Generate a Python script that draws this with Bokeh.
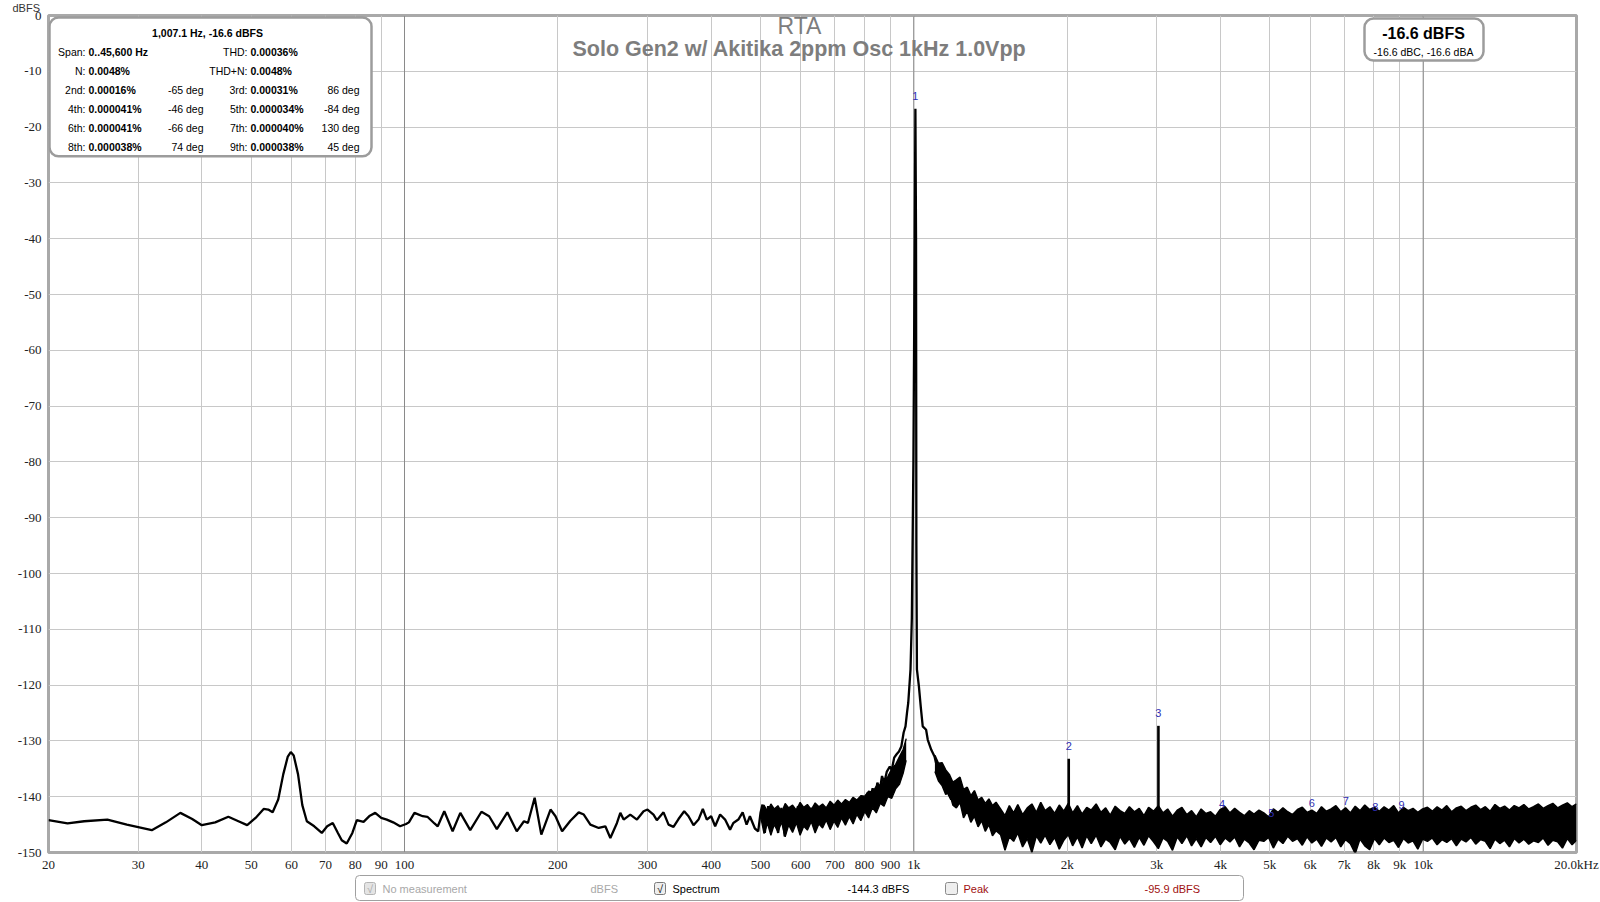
from bokeh.plotting import figure
from bokeh.layouts import column
from bokeh.models import Range1d, FixedTicker, Label, BoxAnnotation, Span, Title
from bokeh.embed import file_html
from bokeh.resources import INLINE
from bokeh.core.properties import value

# ---------------- data ----------------
# continuous spectrum trace, 20 Hz .. 1.5 kHz (Hz, dBFS)
spec_freq = [
    20, 21.8, 23.5, 26.1, 28.5, 31.9, 34.0, 36.3, 38.3, 40.0,
    42.5, 45.1, 47.2, 49.1, 51.0, 52.9, 54.0, 55.1, 56.5, 57.8,
    59.0, 59.8, 60.6, 61.8, 63.0, 64.3, 66.5, 68.8, 70.5, 72.3,
    74.0, 75.3, 77.0, 79.0, 80.6, 83.1, 85.5, 87.6, 90.0, 92.3,
    95.0, 98.0, 100.7, 102.0, 104.6, 108.6, 110.9, 114.5, 116.2, 119.7,
    124.3, 128.7, 134.6, 141.6, 146.6, 151.8, 159.2, 166.1, 171.6, 174.7,
    180.1, 185.6, 193.5, 197.9, 203.9, 211.7, 219.8, 224.9, 231.7, 240.6,
    247.9, 253.6, 261.3, 265.3, 269.3, 277.5, 286.0, 294.7, 300.0, 308.2,
    312.9, 322.5, 329.9, 337.4, 345.1, 354.1, 361.1, 369.3, 377.8, 385.2,
    392.2, 400.0, 407.3, 416.5, 426.0, 435.7, 442.2, 452.3, 461.2, 469.5,
    476.6, 487.4, 494.8, 500.0, 504.5, 509.8, 517.5, 525.4, 533.3, 541.4,
    549.5, 557.8, 566.2, 579.1, 592.3, 600, 610, 620, 630, 640,
    650, 662, 672, 684, 694, 705, 716, 728, 740, 752,
    760, 770, 782, 793, 800, 812, 820, 830, 840, 848,
    858, 866, 875, 885, 897, 905, 915, 925, 935, 945,
    955, 963, 970, 975, 980, 985, 991, 998, 1004, 1007.1,
    1010, 1011.5, 1014, 1023, 1032, 1041, 1057, 1065, 1082, 1098,
    1106, 1115, 1131, 1143, 1157, 1166, 1184, 1202, 1220, 1238,
    1252, 1276, 1296, 1315, 1335, 1356, 1376, 1397, 1418, 1439,
    1461, 1495,
]
spec_db = [
    -144.2, -144.8, -144.4, -144.1, -145.0, -146.0, -144.6, -142.9, -144.0, -145.1,
    -144.6, -143.6, -144.4, -145.1, -143.8, -142.2, -142.3, -142.8, -140.5, -136.0,
    -132.8, -132.0, -132.6, -136.0, -141.5, -144.4, -145.3, -146.5, -145.3, -144.7,
    -146.5, -147.8, -148.4, -146.5, -144.2, -144.5, -143.4, -142.9, -143.8, -144.1,
    -144.6, -145.3, -144.9, -144.6, -142.9, -143.5, -143.6, -144.8, -145.3, -142.6,
    -146.2, -142.9, -146.0, -142.7, -143.5, -145.8, -142.8, -146.2, -144.4, -144.7,
    -140.2, -146.8, -142.3, -143.5, -146.2, -144.3, -142.8, -143.2, -145.0, -145.6,
    -145.3, -147.4, -144.7, -142.9, -144.1, -143.2, -144.1, -142.6, -142.3, -143.2,
    -144.2, -142.8, -145.0, -145.4, -144.0, -142.6, -143.5, -145.1, -144.1, -142.2,
    -144.1, -143.5, -145.3, -143.2, -144.1, -145.9, -144.7, -144.1, -142.8, -145.0,
    -143.5, -145.7, -146.2, -142.9, -141.4, -146.5, -141.7, -145.6, -142.3, -146.5,
    -142.0, -147.1, -142.3, -145.3, -141.7, -143.5, -142.5, -144.5, -142.0, -145.8,
    -143.0, -142.0, -144.2, -142.6, -142.3, -141.6, -143.0, -141.4, -142.8, -141.2,
    -140.3, -142.4, -140.8, -141.6, -140.6, -139.3, -140.6, -138.5, -139.8, -137.5,
    -138.6, -136.3, -137.5, -135.5, -134.6, -135.2, -133.0, -132.4, -131.9, -131.0,
    -128.5, -127.4, -124.8, -123.2, -120.2, -117.2, -108.0, -80.0, -40.0, -16.7,
    -40.0, -95.0, -117.2, -120.2, -124.0, -127.4, -128.0, -129.8, -131.6, -132.8,
    -134.0, -136.3, -134.6, -137.5, -136.3, -139.3, -140.5, -139.3, -140.8, -137.8,
    -142.9, -139.9, -141.4, -139.3, -142.3, -141.1, -144.1, -142.3, -144.7, -142.0,
    -145.9, -143.5,
]

# thick noisy part of the trace below the fundamental (upper / lower envelope)
skirt_freq = [500, 508, 516, 524, 532, 541, 550, 559, 568, 578,
              588, 598, 608, 618, 629, 640, 651, 662, 673, 685,
              697, 709, 721, 734, 747, 760, 773, 787, 801, 815,
              829, 844, 859, 874, 889, 905, 921, 937, 953, 966]
skirt_top = [-142.9, -141.5, -142.6, -141.3, -142.2, -141.6, -142.8, -141.2, -142.0, -141.5,
             -142.4, -141.0, -141.9, -141.4, -142.3, -141.1, -141.8, -141.3, -142.0, -140.8,
             -141.5, -140.6, -141.3, -140.5, -141.0, -140.1, -140.6, -139.8, -139.9, -139.0,
             -139.2, -138.1, -137.9, -137.0, -136.4, -135.0, -134.2, -132.8, -131.5, -129.6]
skirt_bottom = [-143.5, -146.6, -144.8, -146.9, -145.0, -146.3, -144.6, -147.2, -145.1, -146.4,
                -144.7, -146.9, -145.3, -146.0, -144.5, -146.5, -144.9, -145.6, -144.2, -145.9,
                -144.4, -145.5, -143.8, -145.1, -143.6, -144.9, -143.2, -144.3, -142.7, -143.8,
                -142.0, -142.9, -141.2, -141.7, -140.0, -140.3, -138.6, -137.8, -135.8, -133.5]

# dense noise floor above the fundamental: upper and lower envelope of the trace
noise_freq = [
    1100, 1118, 1136, 1155, 1174, 1193, 1212, 1232, 1252, 1273,
    1294, 1315, 1337, 1359, 1381, 1404, 1427, 1450,
    1480, 1510, 1540, 1570, 1600, 1635, 1670, 1705, 1740, 1775,
    1810, 1850, 1890, 1930, 1970, 2010, 2050, 2095, 2140, 2185,
    2230, 2280, 2330, 2380, 2430, 2485, 2540, 2595, 2650, 2710,
    2770, 2830, 2890, 2955, 3020, 3085, 3150, 3220, 3290, 3360,
    3435, 3510, 3585, 3665, 3745, 3825, 3910, 3995, 4085, 4175,
    4265, 4360, 4455, 4555, 4655, 4760, 4865, 4970, 5080, 5190,
    5305, 5420, 5540, 5665, 5790, 5915, 6045, 6180, 6315, 6455,
    6595, 6740, 6890, 7040, 7195, 7355, 7515, 7680, 7850, 8025,
    8200, 8380, 8565, 8755, 8945, 9145, 9345, 9550, 9760, 9975,
    10195, 10420, 10650, 10885, 11125, 11370, 11620, 11875, 12135, 12405,
    12680, 12960, 13245, 13535, 13835, 14140, 14450, 14770, 15095, 15425,
    15765, 16115, 16470, 16835, 17205, 17585, 17970, 18365, 18770, 19185,
    19605, 20000,
]
noise_top = [
    -132.6, -134.0, -133.9, -135.2, -136.0, -137.4, -137.0, -136.5, -138.7, -138.3,
    -139.8, -138.9, -140.6, -140.1, -141.2, -140.4, -141.6, -141.0,
    -142.2, -143.4, -141.6, -142.9, -141.4, -143.2, -142.0, -141.3, -142.8, -141.0,
    -142.5, -141.8, -143.0, -141.5, -142.6, -141.2, -142.9, -141.6, -143.1, -141.9,
    -142.4, -141.3, -142.8, -142.0, -143.3, -141.7, -142.5, -143.0, -141.8, -142.7,
    -142.1, -143.4, -141.9, -142.6, -141.6, -142.9, -142.2, -143.5, -142.4, -141.9,
    -143.2, -142.5, -143.6, -142.2, -143.0, -142.7, -143.5, -142.3, -141.8, -142.9,
    -142.1, -142.8, -143.4, -142.5, -143.1, -142.4, -142.9, -143.6, -142.2, -142.8,
    -142.0, -142.7, -143.2, -142.3, -141.9, -142.8, -142.4, -143.0, -141.8, -142.6,
    -142.2, -141.6, -142.7, -142.0, -142.9, -141.7, -142.5, -141.5, -142.3, -141.9,
    -142.6, -141.8, -142.4, -141.6, -142.9, -141.9, -142.5, -142.1, -142.8, -142.2,
    -141.9, -142.6, -141.8, -142.4, -141.6, -142.7, -142.0, -141.7, -142.5, -141.9,
    -141.5, -142.3, -141.8, -142.6, -141.4, -142.1, -141.7, -142.4, -141.6, -142.0,
    -141.4, -142.2, -141.8, -141.3, -142.1, -141.6, -141.2, -142.0, -141.5, -141.1,
    -141.8, -141.3,
]
noise_bottom = [
    -135.5, -137.2, -138.0, -139.6, -139.2, -141.5, -142.0, -141.0, -143.8, -142.6,
    -144.6, -143.5, -145.4, -144.3, -146.2, -145.0, -147.0, -146.1,
    -146.8, -149.6, -147.2, -148.0, -146.5, -149.0, -147.5, -150.0, -147.0, -148.3,
    -146.9, -148.6, -147.3, -149.4, -147.8, -146.8, -148.8, -147.2, -149.2, -147.0,
    -148.4, -146.9, -149.0, -147.6, -148.2, -149.5, -147.1, -148.5, -147.5, -149.1,
    -147.3, -148.7, -147.0, -148.1, -149.3, -147.4, -148.0, -149.6, -147.2, -148.4,
    -147.0, -148.8, -147.5, -149.0, -147.3, -148.2, -147.1, -148.6, -147.4, -148.1,
    -147.2, -149.0, -147.6, -148.3, -149.5, -147.8, -148.0, -147.3, -149.2, -147.6,
    -148.4, -147.1, -148.0, -147.5, -148.7, -147.2, -148.3, -147.6, -148.9, -147.4,
    -148.1, -147.3, -149.0, -147.7, -148.4, -150.2, -147.6, -148.8, -149.5, -147.5,
    -148.6, -147.4, -148.2, -147.8, -149.1, -147.5, -148.3, -147.9, -149.4, -147.6,
    -148.0, -147.4, -148.6, -147.7, -148.2, -147.5, -148.8, -147.6, -148.1, -147.3,
    -148.5, -147.7, -148.0, -149.3, -147.6, -148.4, -147.8, -149.0, -147.5, -148.3,
    -147.6, -148.5, -147.9, -148.2, -147.4, -148.7, -147.8, -148.1, -149.2, -147.5,
    -148.6, -147.8,
]

# harmonic markers
harm_num = ["1", "2", "3", "4", "5", "6", "7", "8", "9"]
harm_freq = [1007.1, 2014.2, 3021.3, 4028.4, 5035.5, 6042.6, 7049.7, 8056.8, 9063.9]
harm_db = [-16.7, -133.2, -127.3, -143.7, -145.2, -143.5, -143.1, -144.2, -143.8]
noise_floor_db = -146.0

# axes
x_ticks = [20, 30, 40, 50, 60, 70, 80, 90, 100, 200, 300, 400, 500, 600, 700, 800, 900,
           1000, 2000, 3000, 4000, 5000, 6000, 7000, 8000, 9000, 10000, 20000]
x_tick_labels = ["20", "30", "40", "50", "60", "70", "80", "90", "100", "200", "300", "400",
                 "500", "600", "700", "800", "900", "1k", "2k", "3k", "4k", "5k", "6k", "7k",
                 "8k", "9k", "10k", "20.0kHz"]
y_ticks = [-150, -140, -130, -120, -110, -100, -90, -80, -70, -60, -50, -40, -30, -20, -10, 0]
y_unit = "dBFS"
decade_lines = [100, 1000, 10000]

# text panels
title_text = "RTA"
subtitle_text = "Solo Gen2 w/ Akitika 2ppm Osc 1kHz 1.0Vpp"
info_title = "1,007.1 Hz, -16.6 dBFS"
info_rows = [
    ("Span:", "0..45,600 Hz", "", "THD:", "0.00036%", ""),
    ("N:", "0.0048%", "", "THD+N:", "0.0048%", ""),
    ("2nd:", "0.00016%", "-65 deg", "3rd:", "0.00031%", "86 deg"),
    ("4th:", "0.000041%", "-46 deg", "5th:", "0.000034%", "-84 deg"),
    ("6th:", "0.000041%", "-66 deg", "7th:", "0.000040%", "130 deg"),
    ("8th:", "0.000038%", "74 deg", "9th:", "0.000038%", "45 deg"),
]
level_main = "-16.6 dBFS"
level_sub = "-16.6 dBC, -16.6 dBA"
legend_spectrum_value = "-144.3 dBFS"
legend_peak_value = "-95.9 dBFS"

# ---------------- main figure ----------------
FL, FR, FT, FB = 48, 1576, 15, 853   # frame edges in page pixels


def X(px):
    return 20 * 10 ** (3.0 * (px - FL) / (FR - FL))


def Y(py):
    return -150.0 * (py - FT) / (FB - FT)


SANS = "Liberation Sans"
NARROW = "Liberation Sans Narrow"

unit_title = Title(text=y_unit, align="left", offset=-36, standoff=0,
                   text_font=SANS, text_font_size="11px", text_font_style="normal",
                   text_color="#333333", vertical_align="top")

p = figure(width=1600, height=874, x_axis_type="log",
           x_range=Range1d(20, 20000), y_range=Range1d(-150, 0),
           output_backend="svg", toolbar_location=None, title=unit_title,
           min_border_left=48, min_border_right=24, min_border_top=15, min_border_bottom=21)
p.background_fill_color = "white"
p.border_fill_color = "white"
p.outline_line_color = "#a9a9a9"
p.outline_line_width = 3

p.xaxis.ticker = FixedTicker(ticks=x_ticks)
p.yaxis.ticker = FixedTicker(ticks=y_ticks)
p.xaxis.major_label_overrides = {t: l for t, l in zip(x_ticks, x_tick_labels)}
p.yaxis.major_label_overrides = {t: str(t) for t in y_ticks}
for ax in (p.xaxis, p.yaxis):
    ax.axis_line_color = None
    ax.major_tick_line_color = None
    ax.minor_tick_line_color = None
    ax.major_tick_out = 0
    ax.major_tick_in = 0
    ax.minor_tick_out = 0
    ax.minor_tick_in = 0
    ax.major_label_text_font = NARROW
    ax.major_label_text_font_size = "13px"
    ax.major_label_text_color = "#222222"
p.xaxis.major_label_standoff = 4
p.yaxis.major_label_standoff = 7
p.xgrid.ticker = FixedTicker(ticks=x_ticks)
p.ygrid.ticker = FixedTicker(ticks=y_ticks)
p.xgrid.grid_line_color = "#c8c8c8"
p.ygrid.grid_line_color = "#c8c8c8"
for f in decade_lines:
    p.add_layout(Span(location=f, dimension="height", line_color="#8a8a8a",
                      line_width=1, level="underlay"))

# spectrum
p.varea(x=skirt_freq, y1=skirt_bottom, y2=skirt_top, fill_color="black")
p.line(skirt_freq, skirt_top, line_color="black", line_width=1.3)
p.line(skirt_freq, skirt_bottom, line_color="black", line_width=1.3)
p.varea(x=noise_freq, y1=noise_bottom, y2=noise_top, fill_color="black")
p.line(noise_freq, noise_top, line_color="black", line_width=1.5)
p.line(noise_freq, noise_bottom, line_color="black", line_width=1.5)
p.line(spec_freq, spec_db, line_color="black", line_width=2.3)
p.segment(x0=harm_freq[1:], y0=[noise_floor_db] * 8, x1=harm_freq[1:], y1=harm_db[1:],
          line_color="black", line_width=2.6)
p.text(x=harm_freq, y=harm_db, text=harm_num, y_offset=-13, text_align="center",
       text_baseline="middle", text_color="#2f2fb4", text_font_size="11px",
       text_font=value(SANS))


def lab(fig, xx, yy, text, size="10.5px", align="left", bold=False, color="black",
        font=SANS, baseline="middle"):
    fig.add_layout(Label(x=xx, y=yy, text=text, text_align=align,
                         text_baseline=baseline, text_font_size=size,
                         text_font_style="bold" if bold else "normal",
                         text_color=color, text_font=font))


def box(fig, l, r, t, b, fill="white", line="#9a9a9a", lw=1.0, radius=0):
    fig.add_layout(BoxAnnotation(left=l, right=r, top=t, bottom=b,
                                 fill_color=fill, fill_alpha=1.0, line_color=line,
                                 line_alpha=1.0, line_width=lw, border_radius=radius))


# titles inside the plot
lab(p, X(799), Y(25.5), title_text, size="23px", align="center", color="#7d7d7d")
lab(p, X(799), Y(49), subtitle_text, size="21.5px", align="center", bold=True, color="#7d7d7d")

# info box
box(p, X(49), X(371), Y(17), Y(156), line="#9c9c9c", lw=2.5, radius=9)
lab(p, X(207), Y(32.5), info_title, bold=True, align="center")
row_y = [51.7, 70.7, 90, 109, 127.7, 146.7]
for (a, b, c, d, e, f), yy in zip(info_rows, row_y):
    lab(p, X(85), Y(yy), a, align="right")
    lab(p, X(88), Y(yy), b, bold=True)
    if c:
        lab(p, X(203), Y(yy), c, align="right")
    lab(p, X(247), Y(yy), d, align="right")
    lab(p, X(250), Y(yy), e, bold=True)
    if f:
        lab(p, X(359), Y(yy), f, align="right")

# level box
box(p, X(1364), X(1483), Y(18), Y(60), line="#9c9c9c", lw=2.5, radius=9)
lab(p, X(1423), Y(33), level_main, size="16px", bold=True, align="center")
lab(p, X(1423), Y(51.5), level_sub, size="10.5px", align="center")

# ---------------- legend strip below the axis (page y 874..902) ----------------
q = figure(width=1600, height=28, x_range=Range1d(FL, FR), y_range=Range1d(28, 0),
           output_backend="svg", toolbar_location=None, title=None,
           x_axis_location=None, y_axis_location=None,
           min_border_left=FL, min_border_right=1600 - FR, min_border_top=0, min_border_bottom=0)
q.outline_line_color = None
q.grid.visible = False
q.background_fill_color = "white"
q.border_fill_color = "white"

LY = 14.0
box(q, 355, 1243, 1, 26, line="#a0a0a0", lw=1, radius=4)
box(q, 364, 375, LY - 6, LY + 6, fill="#e4e4e4", line="#b4b4b4", radius=2)
lab(q, 369.5, LY, "\u221a", size="11px", align="center", color="#a8a8a8")
lab(q, 382, LY, "No measurement", size="11px", color="#a8a8a8")
lab(q, 590, LY, y_unit, size="11px", color="#a8a8a8")
box(q, 654, 665, LY - 6, LY + 6, fill="#eeeeee", line="#7a7a7a", radius=2)
lab(q, 659.5, LY, "\u221a", size="11px", align="center", color="black")
lab(q, 672, LY, "Spectrum", size="11px", color="black")
q.segment(x0=[811], y0=[LY], x1=[842], y1=[LY], line_color="black", line_width=2.5)
lab(q, 847, LY, legend_spectrum_value, size="11px", color="black")
box(q, 945, 957, LY - 6, LY + 6, fill="#eeeeee", line="#8a8a8a", radius=2)
lab(q, 963, LY, "Peak", size="11px", color="#a01010")
lab(q, 1144, LY, legend_peak_value, size="11px", color="#a01010")

layout = column(p, q, spacing=0)
open("out.html", "w").write(file_html(layout, INLINE))
